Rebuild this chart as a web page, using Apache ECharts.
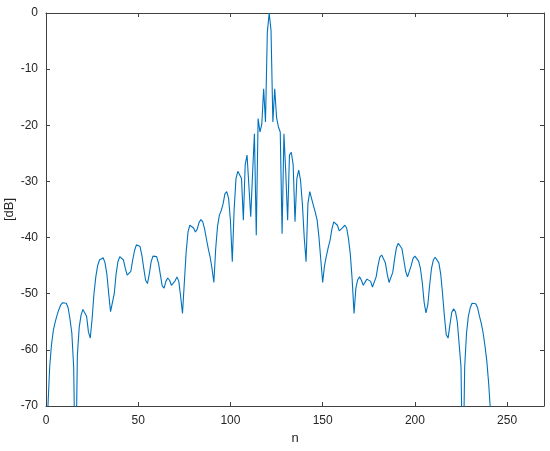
<!DOCTYPE html>
<html>
<head>
<meta charset="utf-8">
<script src="https://cdn.jsdelivr.net/npm/echarts@6/dist/echarts.min.js"></script>
<style>
  html, body { margin: 0; padding: 0; background: #fff; }
  #patternChart { width: 550px; height: 451px; }
</style>
</head>
<body>
<div id="patternChart"></div>
<script>
// sample index n starts at 1
var nStart = 1

// n = 1 .. 121
var dbLeft = [
  -70.5, -63, -59, -56.5, -55, -53.8, -52.8, -52, -51.6, -51.5,
  -51.7, -52.5, -54.5, -57, -63, -85, -61, -56, -53.8, -52.8,
  -52.7, -54, -56.8, -57.9, -54.5, -50, -47, -45, -44, -43.7,
  -43.6, -44.5, -46.5, -50, -53.2, -53.5, -50, -46.5, -44.3, -43.4,
  -43.3, -44, -45.5, -46.7, -47, -46, -44, -42.3, -41.3, -41,
  -41.6, -43.2, -45.5, -47.6, -48.2, -46.5, -44.3, -43.3, -43, -43.4,
  -44.6, -46.6, -48.6, -49, -47.8, -47.2, -47.6, -48.5, -48.8, -47.7,
  -47, -47.8, -50.5, -53.5, -48, -42.5, -39, -37.8, -37.6, -38.3,
  -39, -38.5, -37.3, -36.8, -37.2, -38.5, -40.3, -42, -43.5, -45.5,
  -48, -42, -38, -36, -35.2, -34, -32.2, -31.8, -33, -37,
  -44.3, -35, -29.5, -28.2, -28, -29.5, -36.9, -27, -25.3, -25,
  -36.3, -28.5, -21.5, -39.6, -18.8, -21.2, -19.8, -13.5, -19.4, -3.4,
  0
]

// n = 122 .. 241
var dbRight = [
  -3.1, -19.4, -13.5, -18.6, -20.3, -21.2, -39.3, -21.5, -28.5,
  -36.9, -25.3, -24.8, -27, -37.2, -29.5, -28, -29.8, -34, -40,
  -44.3, -34, -31.8, -32, -34.3, -35.5, -36.9, -40, -44, -48,
  -45, -43.3, -41.8, -40.5, -38.5, -37.2, -36.9, -37.8, -38.8, -39,
  -38.2, -37.8, -38.3, -40.2, -43, -47.5, -53.5, -49, -47.5, -47,
  -47.6, -48.5, -48.3, -47.4, -47.2, -47.8, -48.8, -48.5, -47, -45,
  -43.5, -43.1, -43.3, -44.5, -46.5, -48, -48.2, -46.2, -43.8, -41.8,
  -41, -41, -42, -44, -46, -47, -46.8, -45, -43.7, -43.3,
  -43.4, -44.2, -45.5, -48, -51.5, -53.4, -52, -48.5, -45.5, -44,
  -43.5, -43.7, -44.5, -46.5, -50, -54, -57.3, -57.9, -55.5, -53.3,
  -52.7, -53.2, -55, -59, -63, -85, -63, -57, -54, -52.5,
  -51.7, -51.5, -51.8, -52.5, -54, -55.3, -57, -59.3, -62, -66,
  -71
]

var xTicks = [0, 270, 50]   // min, max, step
var yTicks = [-70, 0, 10]

var lineColor = '#0072bd'
var axisColor = '#404040'
var textColor = '#262626'
var font = 'Liberation Sans, Arial, sans-serif'

var dbAll = dbLeft.concat(dbRight)
var points = dbAll.map(function (v, i) {
  return [nStart + i, v]
})

function xAxisOf(pos, withLabels) {
  return {
    type: 'value',
    position: pos,
    min: xTicks[0],
    max: xTicks[1],
    interval: xTicks[2],
    name: withLabels ? 'n' : '',
    nameLocation: 'middle',
    nameGap: 26,
    nameMoveOverlap: false,
    nameTextStyle: { color: textColor, fontSize: 13, fontFamily: font },
    axisLine: { show: true, onZero: false, lineStyle: { color: axisColor, width: 1 } },
    axisTick: { show: true, inside: true, length: 4, lineStyle: { color: axisColor } },
    axisLabel: {
      show: withLabels,
      showMaxLabel: false,
      margin: 9,
      color: textColor,
      fontSize: 12,
      fontFamily: font
    },
    splitLine: { show: false }
  }
}

function yAxisOf(pos, withLabels) {
  return {
    type: 'value',
    position: pos,
    min: yTicks[0],
    max: yTicks[1],
    interval: yTicks[2],
    name: withLabels ? '[dB]' : '',
    nameLocation: 'middle',
    nameRotate: 90,
    nameGap: 30,
    nameMoveOverlap: false,
    nameTextStyle: { color: textColor, fontSize: 13, fontFamily: font },
    axisLine: { show: true, onZero: false, lineStyle: { color: axisColor, width: 1 } },
    axisTick: { show: true, inside: true, length: 4, lineStyle: { color: axisColor } },
    axisLabel: {
      show: withLabels,
      margin: 8,
      color: textColor,
      fontSize: 12,
      fontFamily: font
    },
    splitLine: { show: false }
  }
}

var chart = echarts.init(document.getElementById('patternChart'), null, { renderer: 'canvas' })
chart.setOption({
  animation: false,
  backgroundColor: '#fff',
  grid: { left: 46, right: 6, top: 13, bottom: 45, containLabel: false, outerBoundsMode: 'none' },
  xAxis: [xAxisOf('bottom', true), xAxisOf('top', false)],
  yAxis: [yAxisOf('left', true), yAxisOf('right', false)],
  series: [
    {
      type: 'line',
      data: points,
      xAxisIndex: 0,
      yAxisIndex: 0,
      showSymbol: false,
      symbol: 'none',
      clip: true,
      lineStyle: { color: lineColor, width: 1.1 },
      emphasis: { disabled: true }
    }
  ]
})
</script>
</body>
</html>
